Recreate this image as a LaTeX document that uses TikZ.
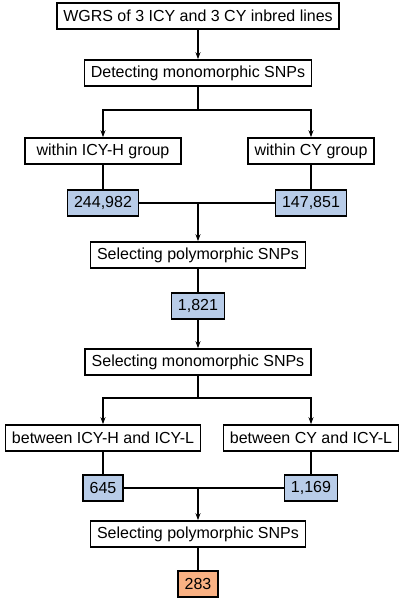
\documentclass[tikz,border=0pt]{standalone}
\usepackage{fontspec}
\setmainfont{Liberation Sans}
\usepackage{xcolor}
\usetikzlibrary{arrows.meta}
\definecolor{numblue}{HTML}{B8CCE8}
\definecolor{numorange}{HTML}{F9B183}

\begin{document}
\begin{tikzpicture}[x=1pt, y=-1pt,
	procbox/.style={draw, line width=1.6pt, fill=white, inner xsep=6.5pt, inner ysep=0pt,
		minimum height=26pt, font=\fontsize{16}{19}\selectfont},
	numbox/.style={procbox, fill=numblue},
	resbox/.style={procbox, fill=numorange},
	link/.style={line width=1.6pt},
	flow/.style={link, -{Stealth[length=7pt, width=5pt]}}]
	% Define the three columns
	\newcommand\ColL{103}
	\newcommand\ColM{198}
	\newcommand\ColR{311}

	\useasboundingbox (0,0) rectangle (401,600);

	% Draw the steps
	\node[procbox] (wgrs) at (\ColM,16) {WGRS of 3 ICY and 3 CY inbred lines};
	\node[procbox] (detect) at (\ColM,73) {Detecting monomorphic SNPs};
	\node[procbox, minimum width=156pt] (withinH) at (\ColL,151) {within ICY-H group};
	\node[procbox, minimum width=124pt] (withinC) at (\ColR,151) {within CY group};
	\node[numbox] (numH) at (\ColL,203) {244,982};
	\node[numbox] (numC) at (\ColR,203) {147,851};
	\node[procbox] (polyA) at (\ColM,255) {Selecting polymorphic SNPs};
	\node[numbox] (numA) at (\ColM,306) {1,821};
	\node[procbox] (mono) at (\ColM,362) {Selecting monomorphic SNPs};
	\node[procbox] (betweenH) at (\ColL,438) {between ICY-H and ICY-L};
	\node[procbox] (betweenC) at (\ColR,438) {between CY and ICY-L};
	\node[numbox] (numHL) at (\ColL,488) {645};
	\node[numbox] (numCL) at (\ColR,488) {1,169};
	\node[procbox] (polyB) at (\ColM,534) {Selecting polymorphic SNPs};
	\node[resbox] (final) at (\ColM,584) {283};

	% Points where the flow splits and merges
	\coordinate (splitA) at (\ColM,110);
	\coordinate (mergeA) at (\ColM,203);
	\coordinate (splitB) at (\ColM,398);
	\coordinate (mergeB) at (\ColM,488);

	% Connect the steps
	\draw[flow] (wgrs) -- (detect);
	\draw[link] (detect) -- (splitA);
	\foreach \target in {withinH, withinC}
		\draw[flow] (splitA) -| (\target);
	\draw[link] (withinH) -- (numH);
	\draw[link] (withinC) -- (numC);
	\draw[link] (numH) -- (numC);
	\draw[flow] (mergeA) -- (polyA);
	\draw[link] (polyA) -- (numA);
	\draw[flow] (numA) -- (mono);
	\draw[link] (mono) -- (splitB);
	\foreach \target in {betweenH, betweenC}
		\draw[flow] (splitB) -| (\target);
	\draw[link] (betweenH) -- (numHL);
	\draw[link] (betweenC) -- (numCL);
	\draw[link] (numHL) -- (numCL);
	\draw[flow] (mergeB) -- (polyB);
	\draw[link] (polyB) -- (final);
\end{tikzpicture}
\end{document}
